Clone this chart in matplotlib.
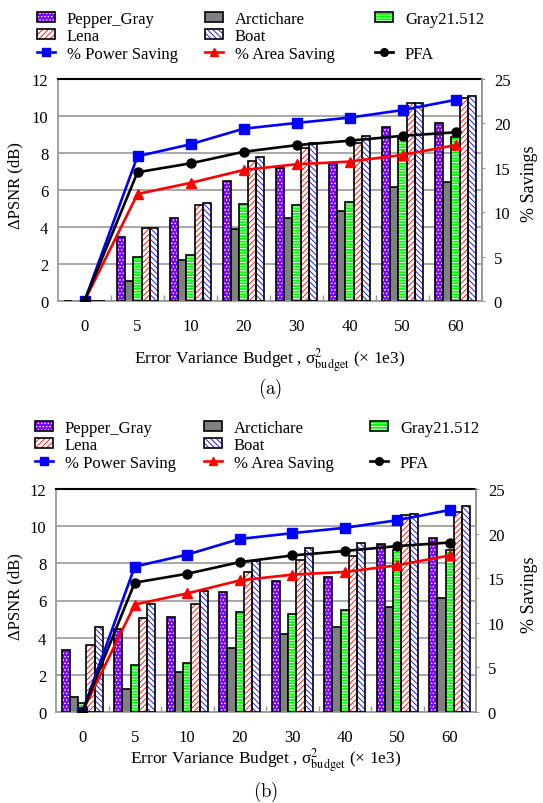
import numpy as np
import matplotlib
matplotlib.use('Agg')
import matplotlib.pyplot as plt
from matplotlib.patches import Rectangle
from matplotlib.lines import Line2D
from matplotlib.legend_handler import HandlerTuple

plt.rcParams['font.family'] = ['Liberation Serif', 'DejaVu Serif']
plt.rcParams['hatch.linewidth'] = 0.6

budgets = ['0', '5', '10', '20', '30', '40', '50', '60']
images = ['Pepper_Gray', 'Arctichare', 'Gray21.512', 'Lena', 'Boat']

# panel (a): delta PSNR (dB) per image
pepper_a = [0, 3.44, 4.5, 6.5, 7.17, 7.44, 9.39, 9.62]
arct_a = [0, 1.08, 2.23, 3.87, 4.5, 4.88, 6.15, 6.45]
gray_a = [0, 2.4, 2.5, 5.22, 5.19, 5.33, 8.8, 8.85]
lena_a = [0, 3.95, 5.2, 7.58, 8.27, 8.54, 10.7, 10.97]
boat_a = [0, 3.95, 5.3, 7.8, 8.54, 8.94, 10.7, 11.06]

# panel (b)
pepper_b = [3.32, 4.47, 5.09, 6.46, 7.07, 7.28, 9.06, 9.36]
arct_b = [0.81, 1.24, 2.17, 3.46, 4.2, 4.59, 5.65, 6.12]
gray_b = [0.47, 2.53, 2.64, 5.36, 5.26, 5.47, 8.74, 8.74]
lena_b = [3.62, 5.06, 5.79, 7.52, 8.16, 8.39, 10.6, 10.74]
boat_b = [4.56, 5.79, 6.51, 8.14, 8.83, 9.09, 10.64, 11.07]

# % savings (same curves in both panels)
power_saving = [0, 16.3, 17.65, 19.4, 20.05, 20.65, 21.5, 22.65]
area_saving = [0, 12.05, 13.3, 14.75, 15.4, 15.7, 16.45, 17.55]
pfa = [0, 14.5, 15.5, 16.8, 17.55, 18.05, 18.6, 19.0]

# face colour, hatch, hatch colour
bar_styles = [('#7f00ff', '.....', 'white'),
              ('#808080', '', None),
              ('#00ff00', '------', 'white'),
              ('white', '//////', 'red'),
              ('white', '\\\\\\\\\\\\', 'blue')]

W, H = 543, 804
fig = plt.figure(figsize=(W / 100, H / 100), dpi=100)
GRAY = '#9a9a9a'


def px(x, y):
    """pixel -> figure fraction"""
    return x / W, 1 - y / H


def bar_handle(fc, hatch, hc):
    if hatch:
        return (Rectangle((0, 0), 1, 1, facecolor=fc, edgecolor=hc, hatch=hatch, lw=0),
                Rectangle((0, 0), 1, 1, fill=False, edgecolor='black', lw=1.2))
    return Rectangle((0, 0), 1, 1, facecolor=fc, edgecolor='black', lw=1.2)


def draw_panel(left, top, right, bottom, bars, tag, xlab_y, tag_y, leg_xs, leg_y):
    x0, y0 = px(left, bottom)
    ax = fig.add_axes([x0, y0, (right - left) / W, (bottom - top) / H])
    x = np.arange(len(budgets))
    w = 0.156
    for i, (vals, (fc, hatch, hc)) in enumerate(zip(bars, bar_styles)):
        pos = x + (i - 2) * w
        if hatch:
            ax.bar(pos, vals, w, color=fc, edgecolor=hc, hatch=hatch, linewidth=0, zorder=2)
            ax.bar(pos, vals, w, fill=False, edgecolor='black', linewidth=1.2, zorder=3)
        else:
            ax.bar(pos, vals, w, color=fc, edgecolor='black', linewidth=1.2, zorder=2)

    ax.set_xlim(-0.5, 7.5)
    ax.set_ylim(0, 12)
    ax.set_yticks(range(0, 13, 2))
    ax.yaxis.grid(True, color=GRAY, lw=1.2)
    ax.set_axisbelow(True)
    ax.set_xticks(x, budgets)
    ax.set_xticks(x[:-1] + 0.5, minor=True)
    ax.tick_params(axis='x', which='major', length=0, pad=12, labelsize=12)
    ax.tick_params(axis='x', which='minor', direction='in', length=4, color=GRAY, width=1)
    ax.tick_params(axis='y', length=0, pad=7, labelsize=12)
    for s in ['left', 'bottom', 'right']:
        ax.spines[s].set_color(GRAY)
        ax.spines[s].set_linewidth(1.3)
    ax.spines['top'].set_linewidth(1.5)

    ax2 = ax.twinx()
    ax2.set_ylim(0, 25)
    ax2.set_yticks(range(0, 26, 5))
    ax2.tick_params(axis='y', direction='out', length=2.5, color=GRAY, pad=6, labelsize=12)
    for s in ['left', 'bottom', 'top']:
        ax2.spines[s].set_visible(False)
    ax2.spines['right'].set_color(GRAY)
    ax2.spines['right'].set_linewidth(1.3)
    lp, = ax2.plot(x, power_saving, color='#0000ff', marker='s', ms=6.5, lw=1.9)
    la, = ax2.plot(x, area_saving, color='red', marker='^', ms=7, lw=1.9)
    lf, = ax2.plot(x, pfa, color='black', marker='o', ms=6.5, lw=1.9)

    # axis titles
    mid = (top + bottom) / 2
    fig.text(*px(15, mid - 5), 'ΔPSNR (dB)', rotation=90, ha='center', va='center', fontsize=12)
    fig.text(*px(530, mid - 7), '% Savings', rotation=90, ha='center', va='center', fontsize=13)
    cx = (left + right) / 2
    fig.text(*px(cx, xlab_y), r'Error Variance Budget , σ$^{2}_{\mathrm{budget}}$ (× 1e3)',
             ha='center', va='baseline', fontsize=12.5, math_fontfamily='stix')
    fig.text(*px(cx, tag_y), r'$\mathrm{(%s)}$' % tag, ha='center', va='center',
             fontsize=13.5, math_fontfamily='cm')

    # legend, three separate columns
    hb = [bar_handle(*st) for st in bar_styles]
    blank = Line2D([], [], linestyle='none')
    cols = [([hb[0], hb[3], lp], [images[0], images[3], '% Power Saving']),
            ([hb[1], hb[4], la], [images[1], images[4], '% Area Saving']),
            ([hb[2], blank, lf], [images[2], ' ', 'PFA'])]
    for lx, (hs, ls) in zip(leg_xs, cols):
        leg = fig.legend(hs, ls, loc='upper left', bbox_to_anchor=px(lx, leg_y),
                         frameon=False, fontsize=12, borderpad=0, borderaxespad=0,
                         handlelength=1.1, handleheight=0.55, handletextpad=0.7,
                         labelspacing=0.08, numpoints=1,
                         handler_map={tuple: HandlerTuple(ndivide=1)})
        for ln in leg.get_lines():
            ln.set_markersize(5.5)


draw_panel(58, 80, 482, 302, [pepper_a, arct_a, gray_a, lena_a, boat_a], 'a',
           365, 389, [37, 205, 375], 12)
draw_panel(56, 490, 476, 713, [pepper_b, arct_b, gray_b, lena_b, boat_b], 'b',
           765, 792, [35, 204, 370], 421)

fig.savefig('out.png', dpi=100)
